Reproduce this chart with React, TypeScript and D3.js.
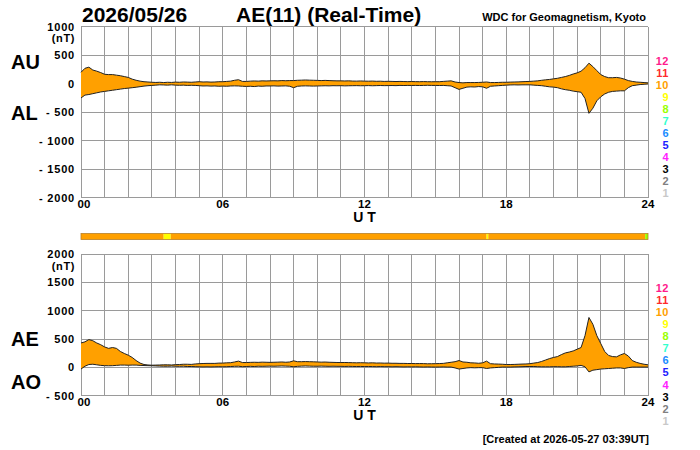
import React from 'react';
import * as d3 from 'd3';

// 10-minute samples, 00:00 .. 24:00 UT (145 values)
const AU = [
  200, 270, 290, 240, 220, 195,
  165, 160, 160, 150, 140, 125,
  110, 80, 60, 45, 35, 30,
  25, 22, 25, 20, 25, 22,
  28, 25, 30, 28, 25, 30,
  35, 30, 32, 28, 30, 35,
  35, 40, 45, 60, 70, 40,
  40, 45, 48, 45, 50, 48,
  50, 52, 50, 55, 52, 55,
  55, 60, 62, 65, 62, 60,
  58, 55, 58, 55, 52, 50,
  50, 48, 50, 46, 45, 48,
  45, 44, 46, 42, 44, 40,
  42, 40, 38, 40, 38, 36,
  38, 36, 35, 37, 35, 34,
  35, 35, 40, 45, 50, 30,
  20, 15, 20, 20, 20, 22,
  25, 30, 20, 20, 22, 25,
  25, 28, 30, 32, 35, 38,
  40, 45, 50, 60, 68, 75,
  85, 95, 110, 125, 145, 170,
  190, 220, 280, 360, 300, 230,
  160, 125, 105, 105, 110, 100,
  80, 55, 40, 30, 25, 20,
  15,
];

const AL = [
  -250, -200, -190, -175, -160, -145,
  -135, -125, -115, -105, -95, -85,
  -78, -70, -62, -52, -42, -35,
  -30, -25, -20, -22, -25, -20,
  -25, -28, -25, -30, -28, -30,
  -35, -40, -38, -42, -40, -45,
  -42, -45, -40, -38, -40, -45,
  -48, -45, -50, -42, -45, -40,
  -40, -38, -42, -40, -38, -45,
  -70, -45, -40, -38, -40, -42,
  -40, -38, -36, -38, -35, -36,
  -35, -38, -36, -35, -34, -36,
  -35, -33, -36, -34, -32, -34,
  -33, -32, -34, -30, -32, -30,
  -31, -30, -32, -30, -28, -30,
  -30, -32, -30, -35, -40, -70,
  -100, -80, -60, -55, -58, -50,
  -55, -80, -45, -40, -35, -30,
  -25, -22, -20, -22, -20, -20,
  -20, -25, -30, -35, -45, -55,
  -60, -70, -90, -105, -115, -130,
  -140, -150, -260, -520, -430, -300,
  -230, -180, -150, -135, -130, -125,
  -125, -70, -35, -25, -15, -10,
  -5,
];

const AE = [
  430, 450, 490, 470, 430, 400,
  360, 335, 350, 335, 280, 245,
  215, 175, 120, 75, 50, 42,
  38, 40, 42, 45, 45, 42,
  48, 50, 55, 55, 52, 60,
  65, 68, 70, 70, 70, 75,
  75, 80, 82, 95, 110, 85,
  85, 88, 90, 88, 92, 90,
  88, 90, 92, 95, 90, 95,
  115, 100, 100, 102, 100, 98,
  95, 92, 94, 90, 88, 86,
  85, 86, 84, 82, 80, 82,
  80, 78, 80, 76, 77, 74,
  75, 72, 72, 70, 70, 68,
  68, 66, 67, 66, 63, 64,
  65, 67, 70, 80, 90, 100,
  120, 95, 90, 80, 78, 72,
  80, 110, 65, 60, 58, 55,
  50, 50, 52, 55, 58, 60,
  65, 75, 85, 105, 130, 155,
  175, 190, 225, 255, 270, 290,
  320, 350, 560, 880, 760, 560,
  420, 280, 210, 190, 185, 220,
  245, 200, 120, 90, 70, 55,
  45,
];

const AO = [
  -30, 20, 50, 55, 45, 35,
  30, 28, 30, 35, 40, 40,
  38, 40, 40, 35, 32, 30,
  28, 25, 22, 20, 20, 22,
  20, 18, 20, 15, 15, 12,
  10, 8, 10, 8, 10, 12,
  10, 12, 15, 18, 20, 12,
  15, 18, 15, 20, 18, 20,
  22, 20, 22, 25, 22, 20,
  10, 18, 22, 25, 22, 20,
  20, 22, 20, 18, 20, 18,
  18, 16, 18, 16, 15, 16,
  14, 15, 14, 12, 14, 12,
  12, 10, 12, 10, 8, 10,
  8, 10, 8, 6, 8, 6,
  5, 6, 8, 5, 5, -10,
  -30, -20, -10, -5, -8, -5,
  -5, -20, -10, -5, 0, 5,
  5, 5, 8, 10, 12, 15,
  15, 15, 12, 10, 10, 10,
  12, 12, 10, 10, 15, 20,
  25, 35, 10, -80, -50, -40,
  -30, -25, -20, -15, -10, -10,
  -20, -5, 5, 5, 5, 5,
  5,
];

const STEP_MIN = 10;

const hourTicks = [0, 6, 12, 18, 24];
const hourTickLabels = ['00', '06', '12', '18', '24'];

const topTicks = [1000, 500, 0, -500, -1000, -1500, -2000];
const topTickLabels = ['1000', '500', '0', '- 500', '- 1000', '- 1500', '- 2000'];
const botTicks = [2000, 1500, 1000, 500, 0, -500];
const botTickLabels = ['2000', '1500', '1000', '500', '0', '- 500'];

const stationNumbers = [12, 11, 10, 9, 8, 7, 6, 5, 4, 3, 2, 1];
const stationColors = [
  '#ff1a8c', '#ff2a2a', '#ffa000', '#ffff00', '#99ff00', '#33ffcc',
  '#1a8cff', '#2020ff', '#ff20ff', '#000000', '#808080', '#c8c8c8',
];

// station-count bar segments (hours)
const barStart = [0, 3.5, 3.8, 17.17, 17.24, 23.88];
const barEnd = [3.5, 3.8, 17.17, 17.24, 23.88, 24];
const barCount = [10, 9, 10, 9, 10, 8];

const FONT = '"Liberation Sans", Arial, Helvetica, sans-serif';
const FILL = '#ffa000';

const x = d3.scaleLinear().domain([0, 24]).range([81, 648]);
const yTop = d3.scaleLinear().domain([-2000, 1000]).range([197.7, 26.7]);
const yBot = d3.scaleLinear().domain([-500, 2000]).range([395.7, 254]);

const colorFor = (n: number) => stationColors[stationNumbers.indexOf(n)];
const tOf = (i: number) => (i * STEP_MIN) / 60;

function Panel(props: {
  y: d3.ScaleLinear<number, number>;
  hi: number[];
  lo: number[];
  ticks: number[];
  labels: string[];
  names: [string, string];
  nameY: [number, number];
}) {
  const { y, hi, lo, ticks, labels, names, nameY } = props;
  const [d0, d1] = y.domain();
  const yTopPx = y(d1);
  const yBotPx = y(d0);
  const area = d3
    .area<number>()
    .x((_, i) => x(tOf(i)))
    .y1((d) => y(d))
    .y0((_, i) => y(lo[i]));
  const line = d3
    .line<number>()
    .x((_, i) => x(tOf(i)))
    .y((d) => y(d));
  const hours = d3.range(0, 25);
  return (
    <g>
      <g stroke="#9a9a9a" strokeWidth={1} shapeRendering="crispEdges">
        {hours.map((h) => (
          <line key={'v' + h} x1={x(h)} x2={x(h)} y1={yTopPx} y2={yBotPx} />
        ))}
        {ticks.map((v) => (
          <line key={'h' + v} x1={x(0)} x2={x(24)} y1={y(v)} y2={y(v)} />
        ))}
      </g>
      <path d={area(hi) || ''} fill={FILL} stroke="none" />
      <path d={line(hi) || ''} fill="none" stroke="#222" strokeWidth={1} />
      <path d={line(lo) || ''} fill="none" stroke="#222" strokeWidth={1} />
      <g fontFamily={FONT} fontWeight="bold" fontSize={11} fill="#000">
        {ticks.map((v, i) => (
          <text key={'yl' + v} x={75} y={y(v) + 4} textAnchor="end" letterSpacing={0.8}>
            {labels[i]}
          </text>
        ))}
        <text x={75} y={yTopPx + 15.5} textAnchor="end" letterSpacing={0.6}>(nT)</text>
        {hourTicks.map((h, i) => (
          <text key={'xl' + h} x={x(h) + (i === 0 ? 3 : 0)} y={yBotPx + 10} textAnchor="middle" fontSize={11.5}>
            {hourTickLabels[i]}
          </text>
        ))}
        <text x={x(12)} y={yBotPx + 24.5} textAnchor="middle" fontSize={14}>
          U T
        </text>
      </g>
      <g fontFamily={FONT} fontWeight="bold" fontSize={20} fill="#000">
        <text x={11} y={nameY[0]}>{names[0]}</text>
        <text x={11} y={nameY[1]}>{names[1]}</text>
      </g>
      <g fontFamily={FONT} fontWeight="bold" fontSize={11}>
        {stationNumbers.map((n, i) => (
          <text key={'s' + n} x={669} y={yTopPx + 38 + i * 12.07} textAnchor="end" fill={stationColors[i]} letterSpacing={0.5}>
            {n}
          </text>
        ))}
      </g>
    </g>
  );
}

export default function App() {
  return (
    <svg
      width={700}
      height={450}
      viewBox="0 0 700 450"
      style={{ position: 'absolute', left: 0, top: 0, background: '#fff' }}
    >
      <rect x={0} y={0} width={700} height={450} fill="#fff" />
      <g fontFamily={FONT} fontWeight="bold" fill="#000">
        <text x={82} y={21.7} fontSize={21}>2026/05/26</text>
        <text x={236} y={21.7} fontSize={21}>AE(11) (Real-Time)</text>
        <text x={646} y={20.7} fontSize={11} textAnchor="end">WDC for Geomagnetism, Kyoto</text>
        <text x={649} y={443} fontSize={11} textAnchor="end">[Created at 2026-05-27 03:39UT]</text>
      </g>

      <Panel y={yTop} hi={AU} lo={AL} ticks={topTicks} labels={topTickLabels} names={['AU', 'AL']} nameY={[69.3, 120]} />

      <g>
        {barStart.map((s, i) => (
          <rect key={'b' + i} x={x(s)} y={233.5} width={x(barEnd[i]) - x(s)} height={6} fill={colorFor(barCount[i])} />
        ))}
        <rect x={x(0)} y={233.5} width={x(24) - x(0)} height={6} fill="none" stroke="#b9802a" strokeWidth={0.8} />
      </g>

      <Panel y={yBot} hi={AE} lo={AO} ticks={botTicks} labels={botTickLabels} names={['AE', 'AO']} nameY={[346, 389]} />
    </svg>
  );
}
